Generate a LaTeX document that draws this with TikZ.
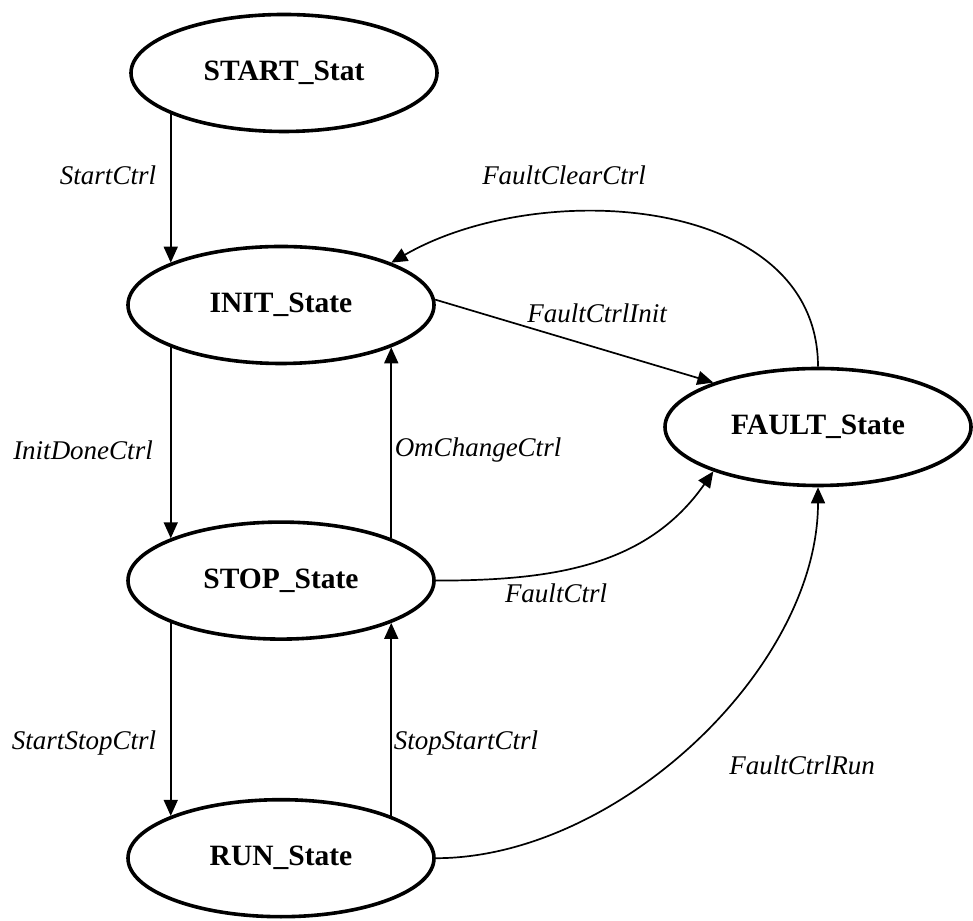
\documentclass[tikz,border=0pt]{standalone}
\usepackage{fontspec}
\setmainfont{Liberation Serif}
\usetikzlibrary{arrows.meta,positioning,shapes.geometric}
\tikzset{
statestyle/.style={
  ellipse,
  line width=3.6pt,
  inner sep=0pt,
  minimum width=306pt,
  minimum height=117pt,
  draw=black,
  font=\fontsize{29.5}{34}\selectfont\bfseries,
  }
}
\tikzset{
transline/.style={
  line width=1.7pt,
  -{Triangle[length=16pt,width=14pt]}
  }
}
\tikzset{
translabel/.style={
  inner sep=0pt,
  font=\fontsize{27}{31}\selectfont\itshape,
  }
}

\begin{document}
\begin{tikzpicture}[x=1pt,y=1pt]
    \useasboundingbox (0,0) rectangle (973,920);

    % state part
    \node[statestyle] (start_st) at (284,847) {START\_Stat};
    \node[statestyle] (init_st) at (281,615) {INIT\_State};
    \node[statestyle, below=155pt of init_st] (stop_st) {STOP\_State};
    \node[statestyle, below=157pt of stop_st] (run_st) {RUN\_State};
    \node[statestyle] (fault_st) at (818,493) {FAULT\_State};

    % label part
    \node[translabel] (start_ctrl) at (108,745) {StartCtrl};
    \node[translabel] (initdone_ctrl) at (83,470) {InitDoneCtrl};
    \node[translabel] (omchange_ctrl) at (478,470) {OmChangeCtrl};
    \node[translabel] (startstop_ctrl) at (84,177) {StartStopCtrl};
    \node[translabel] (stopstart_ctrl) at (466,177) {StopStartCtrl};
    \node[translabel] (faultclear_ctrl) at (564,745) {FaultClearCtrl};
    \node[translabel] (faultinit_ctrl) at (597,607) {FaultCtrlInit};
    \node[translabel] (fault_ctrl) at (556,327) {FaultCtrl};
    \node[translabel] (faultrun_ctrl) at (802,155) {FaultCtrlRun};

    % normal edges
    \draw[transline] (start_st.200 -| init_st.159) -- (init_st.159);
    \draw[transline] (init_st.201) -- (stop_st.159);
    \draw[transline] (stop_st.21) -- (init_st.-21);
    \draw[transline] (stop_st.201) -- (run_st.159);
    \draw[transline] (run_st.21) -- (stop_st.-21);

    % fault edges
    \draw[transline] (init_st.2) -- (fault_st.157);
    \draw[transline] (stop_st.east) to[out=0, in=235] (fault_st.203);
    \draw[transline] (run_st.east) to[out=0, in=-90, looseness=0.87] (fault_st.south);
    \draw[transline] (fault_st.north) to[out=90, in=30] (init_st.21);
  \end{tikzpicture}
\end{document}
